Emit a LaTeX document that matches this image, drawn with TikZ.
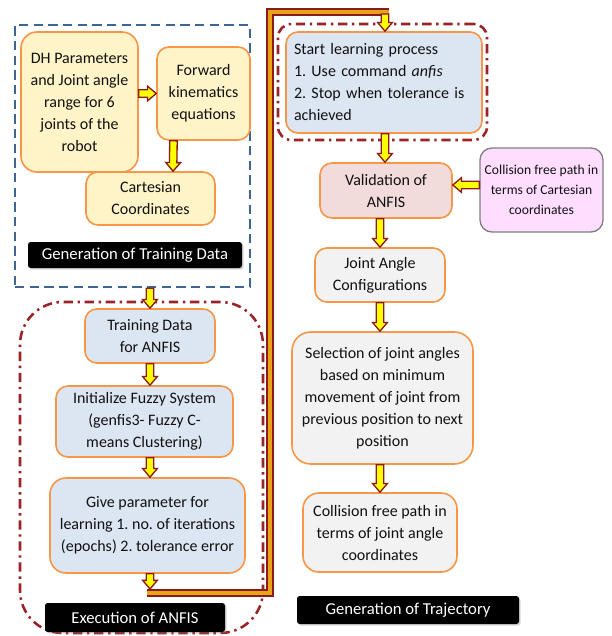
\documentclass[tikz,border=0pt]{standalone}
\usepackage{fontspec}
\setmainfont{Carlito}
\usetikzlibrary{calc,shadows}
\definecolor{dred}{HTML}{8B1A1A}
\definecolor{ddred}{HTML}{9B2226}
\definecolor{byellow}{HTML}{FFFF00}
\definecolor{gold}{HTML}{E8A317}
\definecolor{bord}{HTML}{F79646}
\definecolor{yfill}{HTML}{FFF3C8}
\definecolor{bfill}{HTML}{DCE6F2}
\definecolor{pfill}{HTML}{F2DCDB}
\definecolor{gfill}{HTML}{F2F2F2}
\definecolor{mfill}{HTML}{FFDDFF}
\definecolor{mbord}{HTML}{7F7F7F}
\definecolor{dblue}{HTML}{3F6496}
\definecolor{txt}{HTML}{111111}
\frenchspacing
\tikzset{
  blockarr/.style={to path={let \p1=(\tikztostart),\p2=(\tikztotarget),
     \n1={atan2(\y2-\y1,\x2-\x1)},\n2={veclen(\x2-\x1,\y2-\y1)} in
     (\p1) ++({\n1+90}:2.8pt) -- ++({\n1}:{(\n2-6.5)*1pt}) -- ++({\n1+90}:2.7pt)
     -- (\p2) -- ($(\p2)+({\n1+180}:6.5pt)+({\n1-90}:5.5pt)$) -- ++({\n1+90}:2.7pt)
     -- ($(\p1)+({\n1-90}:2.8pt)$) -- cycle}},
  barrow/.style={draw=dred, fill=byellow, line width=1pt, line join=miter, blockarr},
  dline/.style={draw=dred, double=gold, double distance=3.6pt, line width=0.9pt, line join=miter},
  sz/.style 2 args={minimum width={#1*0.75pt}, minimum height={#2*0.75pt}},
  box/.style={draw=bord, line width=1.2pt, rounded corners=9pt, inner sep=2pt,
     align=center, text=txt, font=\fontsize{12}{16.5}\selectfont},
  ybox/.style={box, fill=yfill},
  bbox/.style={box, fill=bfill},
  gbox/.style={box, fill=gfill},
  lab/.style={fill=black, text=white, rounded corners=2pt, inner sep=0pt,
     font=\fontsize{12.5}{14}\selectfont,
     drop shadow={opacity=0.3, shadow xshift=1.2pt, shadow yshift=-1.2pt}},
  bluedash/.style={draw=dblue, line width=1.9pt, dash pattern=on 7pt off 4pt},
  reddashdot/.style={draw=ddred, line width=1.9pt, dash pattern=on 7pt off 3.5pt on 1.8pt off 3.5pt},
}
\begin{document}
\begin{tikzpicture}[x=0.75pt,y=-0.75pt]
\useasboundingbox[fill=white] (0,0) rectangle (611,636);

% group frames
\node[bluedash, sz={235}{262}, inner sep=0pt] (gtd) at (132.5,156) {};
\node[reddashdot, rounded corners=32pt, sz={243}{331}, inner sep=0pt] (gexe) at (141.5,467.5) {};
\node[reddashdot, rounded corners=10pt, sz={209}{116}, inner sep=0pt] (gstart) at (382.5,82) {};

% generation of training data
\node[ybox, sz={117}{140}, rounded corners=12pt] (dh) at (79.5,102)
  {DH Parameters\\and Joint angle\\range for 6\\joints of the\\robot};
\node[ybox, sz={93}{93}] (fk) at (203.5,93.5) {Forward\\kinematics\\equations};
\node[ybox, sz={129}{53}] (cart) at (150.5,198.5) {Cartesian\\Coordinates};
\node[lab, sz={214}{26}] (lab1) at (135,255) {Generation of Training Data};

% execution of ANFIS
\node[bbox, sz={130}{54}] (td) at (150,336) {Training Data\\for ANFIS};
\node[bbox, sz={177}{71}] (init) at (144.5,421.5) {Initialize Fuzzy System\\(genfis3- Fuzzy C-\\means Clustering)};
\node[bbox, sz={195}{95}, rounded corners=12pt] (give) at (147.5,525.5)
  {Give parameter for\\learning 1. no. of iterations\\(epochs) 2. tolerance error};
\node[lab, sz={180}{29}] (lab2) at (135,617.5) {Execution of ANFIS};

% generation of trajectory
\node[bbox, sz={196}{101}, align=left, text width={180*0.75pt}] (start) at (384,82.5)
  {Start learning process\\1. Use command \textit{anfis}\\2. Stop when tolerance is\\achieved};
\node[box, fill=pfill, sz={132}{55}] (valid) at (386,190.5) {Validation of\\ANFIS};
\node[box, draw=mbord, fill=mfill, line width=1pt, sz={123}{84}, font=\fontsize{10.2}{15}\selectfont] (ccart) at (541.5,190)
  {Collision free path in\\terms of Cartesian\\coordinates};
\node[gbox, sz={130}{54}] (joint) at (380,275) {Joint Angle\\Configurations};
\node[gbox, sz={181}{132}, rounded corners=14pt] (sel) at (382.5,398)
  {Selection of joint angles\\based on minimum\\movement of joint from\\previous position to next\\position};
\node[gbox, sz={154}{79}, rounded corners=12pt] (cjoint) at (380,532.5)
  {Collision free path in\\terms of joint angle\\coordinates};
\node[lab, sz={222}{28}] (lab3) at (408,610) {Generation of Trajectory};

% connector coordinates
\coordinate (j0) at (150,589);
\coordinate (j1) at (147,593);
\coordinate (j2) at (270,593);
\coordinate (j3) at (270,12);
\coordinate (j4) at (388.5,12);
\coordinate (j5) at (385,14);

% arrows
\draw[barrow] (dh.east |- fk.west) to (fk.west);
\draw[barrow] ($(fk.south)+(-30,0)$) to ($(cart.north)+(22.5,0)$);
\draw[barrow] (gtd.south -| td.north) to (td.north);
\draw[barrow] (td.south) to (td.south |- init.north);
\draw[barrow] (init.south -| td.south) to (td.south |- give.north);
\draw[barrow] (give.south -| j0) to (j0);
\draw[dline] (j1) -- (j2) -- (j3) -- (j4);
\draw[barrow] (j5) to (j5 |- start.north);
\draw[barrow] (start.south -| j5) to (j5 |- valid.north);
\draw[barrow] (ccart.west |- 0,185) to (valid.east |- 0,185);
\draw[barrow] (joint.north |- valid.south) to (joint.north);
\draw[barrow] (joint.south) to (joint.south |- sel.north);
\draw[barrow] (sel.south -| joint.south) to (joint.south |- cjoint.north);
\end{tikzpicture}
\end{document}
